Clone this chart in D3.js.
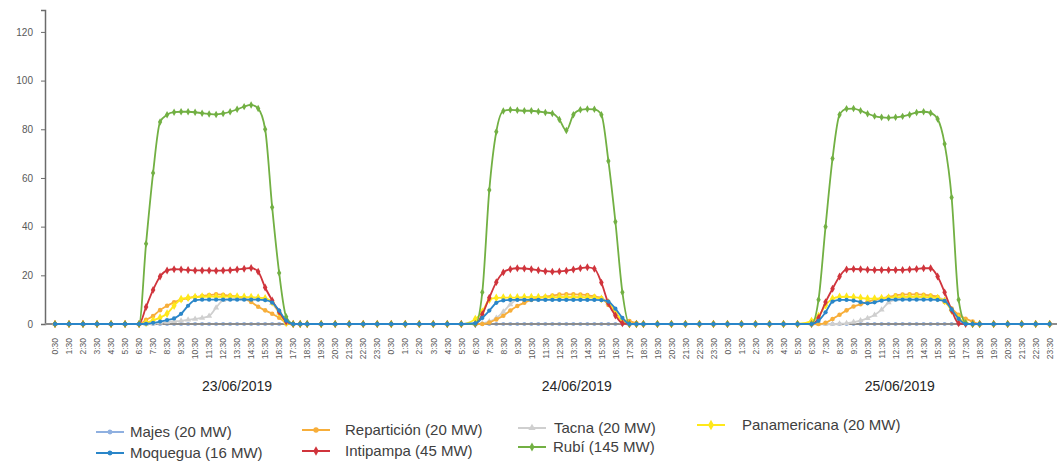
<!DOCTYPE html>
<html>
<head>
<meta charset="utf-8">
<script src="https://cdn.jsdelivr.net/npm/d3@7"></script>
<style>
  body { margin: 0; background: #fff; }
  svg { display: block; font-family: 'Liberation Sans', Arial, sans-serif; }
  .axis text { fill: #595959; }
</style>
</head>
<body>
<script>
// one day of readings: hourly at night, every half hour in daylight
const slots = ['0:30','1:30','2:30','3:30','4:30','5:30',
    '6:30','7:00','7:30','8:00','8:30','9:00','9:30','10:00','10:30','11:00','11:30','12:00',
    '12:30','13:00','13:30','14:00','14:30','15:00','15:30','16:00','16:30','17:00','17:30','18:00',
    '18:30','19:30','20:30','21:30','22:30','23:30']
const days = ['23/06/2019', '24/06/2019', '25/06/2019']
const yTicks = [0, 20, 40, 60, 80, 100, 120]

// MW per slot, one row per day
const majes = [
    [0,0,0,0,0,0, 0,0,0,0,0,0,0,0,0,0,0,0,0,0,0,0,0,0,0,0,0,0,0,0, 0,0,0,0,0,0],
    [0,0,0,0,0,0, 0,0,0,0,0,0,0,0,0,0,0,0,0,0,0,0,0,0,0,0,0,0,0,0, 0,0,0,0,0,0],
    [0,0,0,0,0,0, 0,0,0,0,0,0,0,0,0,0,0,0,0,0,0,0,0,0,0,0,0,0,0,0, 0,0,0,0,0,0]
]
const moquegua = [
    [0,0,0,0,0,0, 0,0.1,0.5,1,1.6,2.3,4.2,7.5,9.8,10,10,10,10,10,10,10,10,10,9.8,8.8,5.5,1.4,0,0, 0,0,0,0,0,0],
    [0,0,0,0,0,0, 0.3,2.5,5.5,8.7,9.7,9.9,9.9,9.9,9.9,9.9,9.9,9.9,9.9,9.9,9.9,9.9,9.9,9.9,9.8,9.2,6.3,2.5,0,0, 0,0,0,0,0,0],
    [0,0,0,0,0,0, 0,1.3,4.8,9.2,9.9,9.9,9.6,9,8.5,8.9,9.6,10,10,10,10,10,10,10,9.9,9.5,6,2.2,0,0, 0,0,0,0,0,0]
]
const reparticion = [
    [0,0,0,0,0,0, 0,1.7,3.3,5.7,7.5,8.9,10,10.6,11.1,11.5,11.9,12.2,12,11.7,11.2,10.4,9,7.1,5.6,4.2,2.6,0.5,0,0, 0,0,0,0,0,0],
    [0,0,0,0,0,0, 0,0,0.6,1.9,3.4,5.5,7.4,8.7,9.9,10.6,11.2,11.7,12.1,12.2,12.2,12.1,11.9,11.3,10.6,7.8,4.5,1.6,1.2,0.3, 0,0,0,0,0,0],
    [0,0,0,0,0,0, 0,0,0.5,2.1,3.8,5.6,7.2,8.1,9.1,10,10.5,11.1,11.8,12.1,12.2,12.2,12,11.7,11.1,9,6.4,3.8,2.2,1, 0,0,0,0,0,0]
]
const intipampa = [
    [0,0,0,0,0,0, 0,7,14,19.5,22,22.5,22.4,22.2,22,22,22,21.9,22,22.1,22.4,22.7,23,21.5,15,9.7,5,1,0,0, 0,0,0,0,0,0],
    [0,0,0,0,0,0, 0,4,10.8,17.2,21.2,22.5,22.9,22.8,22.5,22.1,21.7,21.5,21.6,21.9,22.4,22.9,23.3,22.7,17,8.5,3.5,0.3,0,0, 0,0,0,0,0,0],
    [0,0,0,0,0,0, 0,2.5,9,14.5,19.5,22.4,22.6,22.5,22.3,22.2,22.2,22.2,22.2,22.2,22.4,22.6,22.9,22.9,19.5,13,5.7,0.3,0,0, 0,0,0,0,0,0]
]
const tacna = [
    [0,0,0,0,0,0, 0,0,0.2,0.5,0.8,1.1,1.3,1.7,2.1,2.5,3.3,6.7,9.8,10.4,10.6,10.7,10.8,10.8,10.5,8.5,4.5,0.8,0,0, 0,0,0,0,0,0],
    [0,0,0,0,0,0, 0,0.3,1,2.5,5,8,10.2,10.8,11,11,11,11,11,11,11,11,11,11,10.6,8.5,4.5,0.8,0,0, 0,0,0,0,0,0],
    [0,0,0,0,0,0, 0,0,0,0,0.1,0.3,0.8,1.4,2.4,3.7,5.9,8.8,10.1,10.6,10.8,10.9,10.9,10.9,10.7,9.9,6,2,0.3,0, 0,0,0,0,0,0]
]
const rubi = [
    [0,0,0,0,0,0, 0,33,62,83,86,87,87.2,87.2,87,86.6,86.3,86.1,86.5,87.2,88.2,89.3,90,88.5,80,48,21,3,0,0, 0,0,0,0,0,0],
    [0,0,0,0,0,0, 0,13,55,79,87.5,88,87.8,87.6,87.6,87.3,86.9,86.5,84,79.5,86,88,88.3,88.2,86,67,42,13,0,0, 0,0,0,0,0,0],
    [0,0,0,0,0,0, 0,10,40,68,86,88.4,88.5,87.6,86.4,85.4,84.9,84.7,84.9,85.3,86,86.9,87.2,86.7,84.2,74,52,10,0.5,0, 0,0,0,0,0,0]
]
const panamericana = [
    [0,0,0,0,0,0, 0,0.5,1.5,2.6,4.3,7.5,10.2,10.8,11,11.2,11.3,11.2,11.2,11.3,11.2,11.1,11,10.8,10.5,9,4.6,0.5,0,0, 0,0,0,0,0,0],
    [0,0,0,0,0,0, 2,5,10,10.7,10.8,10.8,10.9,11,11,11,10.9,10.9,11,11,11,11,10.9,10.8,10.3,8.8,5,1,0,0, 0,0,0,0,0,0],
    [0,0,0,0,0,0, 1.2,3.2,7.7,10.4,11.1,11.2,11,10.7,10.4,10.4,10.6,10.8,11,11.1,11.2,11.2,11.1,11,10.6,9.5,5.5,2.5,0.5,0, 0,0,0,0,0,0]
]

// styles, in drawing order (Moquegua last so the night line is blue)
const series = [
    { name: 'Majes (20 MW)', values: majes, color: '#8fb0e0', symbol: d3.symbolCircle, size: 14 },
    { name: 'Tacna (20 MW)', values: tacna, color: '#cfcfcf', symbol: d3.symbolTriangle, size: 16 },
    { name: 'Repartición (20 MW)', values: reparticion, color: '#f7ae3a', symbol: d3.symbolCircle, size: 16 },
    { name: 'Panamericana (20 MW)', values: panamericana, color: '#ffe81a', symbol: d3.symbolDiamond, size: 22 },
    { name: 'Intipampa (45 MW)', values: intipampa, color: '#d0343c', symbol: d3.symbolDiamond, size: 18 },
    { name: 'Rubí (145 MW)', values: rubi, color: '#72b043', symbol: d3.symbolDiamond, size: 16 },
    { name: 'Moquegua (16 MW)', values: moquegua, color: '#2a86c9', symbol: d3.symbolCircle, size: 14 }
]

// legend placement: line start x, baseline y, text offset
const legendLayout = {
    'Majes (20 MW)': [96, 437, 34],
    'Repartición (20 MW)': [302, 435, 43],
    'Tacna (20 MW)': [518, 433, 36],
    'Panamericana (20 MW)': [697, 430, 45],
    'Moquegua (16 MW)': [96, 458, 34],
    'Intipampa (45 MW)': [302, 456, 43],
    'Rubí (145 MW)': [518, 452, 35]
}

const W = 1059, H = 462
const svg = d3.select('body').append('svg')
    .attr('width', W)
    .attr('height', H)

const slotHour = s => { const [h, m] = s.split(':'); return +h + (+m) / 60 }

const x = d3.scaleLinear().domain([0, 72]).range([48, 1056.7])
const y = d3.scaleLinear().domain([0, 129]).range([324, 10])

// x axis: rotated hh:30 labels
const xAxis = d3.axisBottom(x)
    .tickValues(d3.range(72).map(i => i + 0.5))
    .tickFormat(d => `${Math.floor(d) % 24}:30`)
    .tickSize(0)

const gx = svg.append('g')
    .attr('class', 'axis')
    .attr('transform', `translate(0,${y(0)})`)
    .call(xAxis)
gx.select('.domain').remove()
gx.selectAll('text')
    .attr('transform', 'rotate(-90)')
    .attr('text-anchor', 'end')
    .attr('x', -14)
    .attr('y', 0)
    .attr('dy', '0.32em')
    .style('font-size', '8.5px')

// y axis
const gy = svg.append('g')
    .attr('class', 'axis')
    .attr('transform', 'translate(45,0)')
    .call(d3.axisLeft(y).tickValues(yTicks).tickSize(4).tickPadding(8))
gy.select('.domain').attr('stroke', '#6b6b6b').attr('stroke-width', 1.5)
gy.selectAll('.tick line').attr('stroke', '#6b6b6b')
gy.selectAll('text').style('font-size', '10px')

// day labels
const dayLabelHour = [13.5, 37.75, 60.8]
svg.selectAll('.day')
    .data(days)
    .join('text')
    .attr('class', 'day')
    .attr('x', (d, i) => x(dayLabelHour[i]))
    .attr('y', 391)
    .attr('text-anchor', 'middle')
    .attr('fill', '#262626')
    .style('font-size', '14px')
    .text(d => d)

// lines
const points = vals => vals.flatMap((row, di) =>
    row.map((v, si) => ({ t: di * 24 + slotHour(slots[si]), v })))

const line = d3.line()
    .x(d => x(d.t))
    .y(d => y(d.v))
    .curve(d3.curveMonotoneX)

const plot = svg.append('g')

function drawSeries(g, s) {
    g.append('path')
        .attr('fill', 'none')
        .attr('stroke', s.color)
        .attr('stroke-width', 1.8)
        .attr('d', line(points(s.values)))
    g.selectAll('path.mk')
        .data(points(s.values))
        .join('path')
        .attr('class', 'mk')
        .attr('transform', d => `translate(${x(d.t)},${y(d.v)})`)
        .attr('d', d3.symbol(s.symbol, s.size))
        .attr('fill', s.color)
}

series.forEach((s, i) => {
    drawSeries(plot.append('g'), s)
    // horizontal axis line sits over Majes (flat at zero) but under the rest
    if (i === 0) {
        plot.append('line')
            .attr('x1', 45).attr('x2', 1057)
            .attr('y1', y(0)).attr('y2', y(0))
            .attr('stroke', '#8c8c8c')
            .attr('stroke-width', 2)
    }
})

// legend
const legend = svg.append('g')
    .selectAll('g')
    .data(series)
    .join('g')
    .attr('transform', d => `translate(${legendLayout[d.name][0]},${legendLayout[d.name][1]})`)

legend.append('line')
    .attr('x1', 0).attr('x2', 28)
    .attr('y1', -5).attr('y2', -5)
    .attr('stroke', d => d.color)
    .attr('stroke-width', 2)
legend.append('path')
    .attr('transform', 'translate(14,-5)')
    .attr('d', d => d3.symbol(d.symbol, d.size * 1.4)())
    .attr('fill', d => d.color)
legend.append('text')
    .attr('x', d => legendLayout[d.name][2])
    .attr('fill', '#404040')
    .style('font-size', '15px')
    .text(d => d.name)
</script>
</body>
</html>
